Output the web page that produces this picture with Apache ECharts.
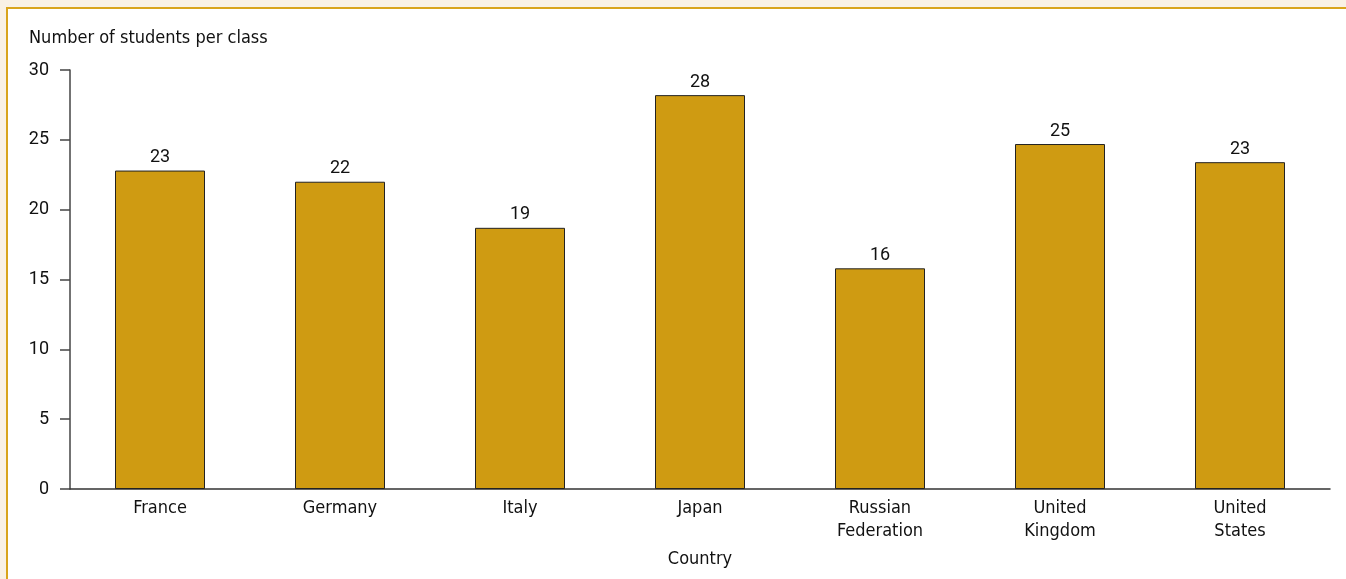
<!DOCTYPE html>
<html>
<head>
<meta charset="utf-8">
<script src="https://cdn.jsdelivr.net/npm/echarts@6/dist/echarts.min.js"></script>
<style>
  html, body { margin: 0; padding: 0; width: 1346px; height: 579px; overflow: hidden; background: #f9f1e5; }
  #frame { position: absolute; left: 6px; top: 7px; right: 0; bottom: 0; background: #ffffff;
           border-top: 2px solid #d9a41c; border-left: 2px solid #d9a41c; }
  #chart { position: absolute; left: 0; top: 0; width: 1346px; height: 579px; }
</style>
</head>
<body>
<div id="frame"></div>
<div id="chart"></div>
<script>
const categories = ['France', 'Germany', 'Italy', 'Japan', 'Russian\nFederation', 'United\nKingdom', 'United\nStates'];
const studentsPerClass = [22.8, 22.0, 18.7, 28.2, 15.8, 24.7, 23.4];
const yTicks = { min: 0, max: 30, interval: 5 };
const yTitle = 'Number of students per class';
const xTitle = 'Country';

const TEXT_FONT = '"Liberation Sans Narrow", "DejaVu Sans Condensed", "Open Sans", sans-serif';
const NUM_FONT = 'Roboto, "Open Sans", sans-serif';
const chart = echarts.init(document.getElementById('chart'), null, { renderer: 'canvas' });
chart.setOption({
  backgroundColor: 'transparent',
  animation: false,
  title: {
    text: yTitle,
    left: 29, top: 29, padding: 0,
    textStyle: { fontFamily: TEXT_FONT, fontSize: 18, fontWeight: 'normal', color: '#111' }
  },
  grid: { left: 70, right: 16, top: 70, bottom: 90, containLabel: false },
  xAxis: {
    type: 'category',
    data: categories,
    name: xTitle,
    nameLocation: 'middle',
    nameGap: 61,
    nameTextStyle: { fontFamily: TEXT_FONT, fontSize: 18, color: '#111' },
    axisLine: { lineStyle: { color: '#333', width: 1.5 } },
    axisTick: { show: false },
    axisLabel: { fontFamily: TEXT_FONT, fontSize: 18, color: '#111', margin: 8, lineHeight: 23, interval: 0 }
  },
  yAxis: {
    type: 'value',
    min: yTicks.min, max: yTicks.max, interval: yTicks.interval,
    axisLine: { show: true, lineStyle: { color: '#444', width: 1.5 } },
    axisTick: { show: true, length: 10, lineStyle: { color: '#444', width: 1.5 } },
    splitLine: { show: false },
    axisLabel: { fontFamily: NUM_FONT, fontSize: 18, color: '#111', margin: 21 }
  },
  series: [{
    type: 'bar',
    data: studentsPerClass,
    barWidth: '50%',
    itemStyle: { color: '#cf9b12', borderColor: '#222', borderWidth: 1 },
    label: {
      show: true, position: 'top', distance: 4,
      fontFamily: NUM_FONT, fontSize: 18, color: '#111',
      formatter: p => Math.round(p.value)
    }
  }]
});
</script>
</body>
</html>
